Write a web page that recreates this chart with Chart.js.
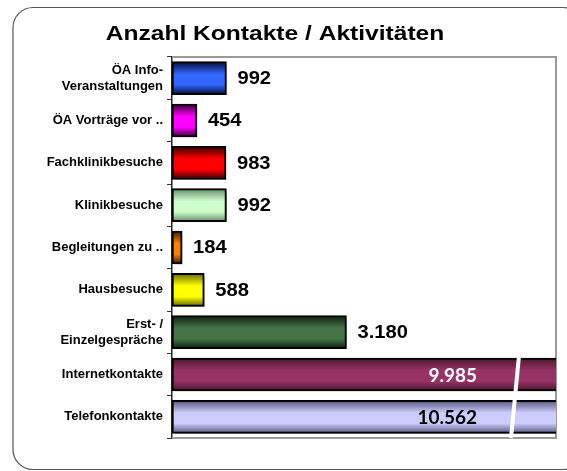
<!DOCTYPE html>
<html>
<head>
<meta charset="utf-8">
<script src="https://cdn.jsdelivr.net/npm/chart.js@4/dist/chart.umd.min.js"></script>
<style>
  html, body { margin: 0; padding: 0; background: #fff; }
  #wrap { width: 567px; height: 471px; position: relative; }
</style>
</head>
<body>
<div id="wrap"><canvas id="chart"></canvas></div>
<script>
const title = 'Anzahl Kontakte / Aktivitäten';
const categories = [
  ['ÖA Info-', 'Veranstaltungen'],
  'ÖA Vorträge vor ..',
  'Fachklinikbesuche',
  'Klinikbesuche',
  'Begleitungen zu ..',
  'Hausbesuche',
  ['Erst- /', 'Einzelgespräche'],
  'Internetkontakte',
  'Telefonkontakte'
];
const values = [992, 454, 983, 992, 184, 588, 3180, 9985, 10562];
const valueLabels = ['992', '454', '983', '992', '184', '588', '3.180', '9.985', '10.562'];
const axisMax = 7000;

// fill colours: middle tone and edge tone of each bar
const barColors = ['#3366ff', '#ff00ff', '#ff0000', '#ccffcc', '#ff8000', '#ffff00', '#467447', '#993366', '#ccccff'];
const edgeColors = ['#000a33', '#330033', '#330000', '#6a8a6a', '#3a1a00', '#666600', '#0d1f0f', '#4a1530', '#55557a'];

const BAR_H = 33;

// draws text slightly stretched, like the original chart's fonts
function wideText(ctx, text, x, y, font, align, stretch) {
  ctx.save();
  ctx.translate(x, y);
  ctx.scale(stretch, 1);
  ctx.font = font;
  ctx.textAlign = align;
  ctx.textBaseline = 'middle';
  ctx.fillText(text, 0, 0);
  ctx.restore();
}

const frame = {
  id: 'frame',
  beforeDraw(chart) {
    const ctx = chart.ctx;
    ctx.save();
    ctx.strokeStyle = '#555';
    ctx.lineWidth = 1.2;
    ctx.beginPath();
    ctx.roundRect(13, 7.5, 570, 462, 20);
    ctx.stroke();
    ctx.fillStyle = '#000';
    wideText(ctx, title, 275, 34, 'bold 21px "Liberation Sans", Arial, sans-serif', 'center', 1.17);
    ctx.restore();
  },
  beforeDatasetsDraw(chart) {
    const { ctx, chartArea: a } = chart;
    ctx.save();
    ctx.strokeStyle = '#9a9a9a';
    ctx.lineWidth = 2;
    ctx.beginPath();
    ctx.moveTo(a.left, a.top);
    ctx.lineTo(a.right, a.top);
    ctx.lineTo(a.right, a.bottom);
    ctx.lineTo(a.left, a.bottom);
    ctx.stroke();
    ctx.restore();
  },
  beforeDatasetDraw(chart) {
    const ctx = chart.ctx;
    ctx.save();
    ctx.shadowColor = 'rgba(0,0,0,0.35)';
    ctx.shadowBlur = 4;
    ctx.shadowOffsetX = 3;
    ctx.shadowOffsetY = 3;
  },
  afterDatasetDraw(chart) {
    chart.ctx.restore();
  },
  afterDatasetsDraw(chart) {
    const { ctx, chartArea: a } = chart;
    const meta = chart.getDatasetMeta(0);
    ctx.save();
    meta.data.forEach((bar, i) => {
      if (values[i] <= axisMax) {
        ctx.fillStyle = '#000';
        wideText(ctx, valueLabels[i], bar.x + 11, bar.y + 1, 'bold 18px "Liberation Sans", Arial, sans-serif', 'left', 1.12);
      } else {
        ctx.fillStyle = i === 7 ? '#fff' : '#000';
        wideText(ctx, valueLabels[i], a.right - 79, bar.y + 1, 'bold 19px Lato, "Open Sans", sans-serif', 'right', 1);
      }
    });
    // axis break mark
    const top = meta.data[7].y - BAR_H / 2 - 2;
    ctx.strokeStyle = '#fff';
    ctx.lineWidth = 4;
    ctx.beginPath();
    ctx.moveTo(a.right - 37, top);
    ctx.lineTo(a.right - 45, a.bottom);
    ctx.stroke();
    ctx.restore();
  }
};

function barFill(c) {
  const i = c.dataIndex;
  const ys = c.chart.scales.y;
  if (!ys || c.type !== 'data') return barColors[i];
  const yc = ys.getPixelForValue(i);
  if (!Number.isFinite(yc)) return barColors[i];
  const g = c.chart.ctx.createLinearGradient(0, yc - BAR_H / 2, 0, yc + BAR_H / 2);
  g.addColorStop(0, edgeColors[i]);
  g.addColorStop(0.38, barColors[i]);
  g.addColorStop(0.7, barColors[i]);
  g.addColorStop(1, edgeColors[i]);
  return g;
}

new Chart(document.getElementById('chart'), {
  type: 'bar',
  data: {
    labels: categories,
    datasets: [{
      data: values,
      backgroundColor: barFill,
      borderColor: '#000',
      borderWidth: 2,
      borderSkipped: false,
      barThickness: BAR_H
    }]
  },
  options: {
    indexAxis: 'y',
    responsive: true,
    maintainAspectRatio: false,
    animation: false,
    layout: { padding: { top: 57, right: 11, bottom: 33, left: 0 } },
    plugins: {
      legend: { display: false },
      tooltip: { enabled: false },
      title: { display: false }
    },
    scales: {
      x: {
        type: 'linear',
        min: 0,
        max: axisMax,
        display: false
      },
      y: {
        afterFit(scale) { scale.width = 172; },
        grid: { display: true, drawOnChartArea: false, tickLength: 5, color: '#333' },
        border: { display: true, color: '#222', width: 1.5 },
        ticks: {
          color: '#000',
          padding: 4,
          font: { family: '"Liberation Sans", Arial, sans-serif', size: 13, weight: 'bold', lineHeight: 1.25 }
        }
      }
    }
  },
  plugins: [frame]
});
</script>
</body>
</html>
